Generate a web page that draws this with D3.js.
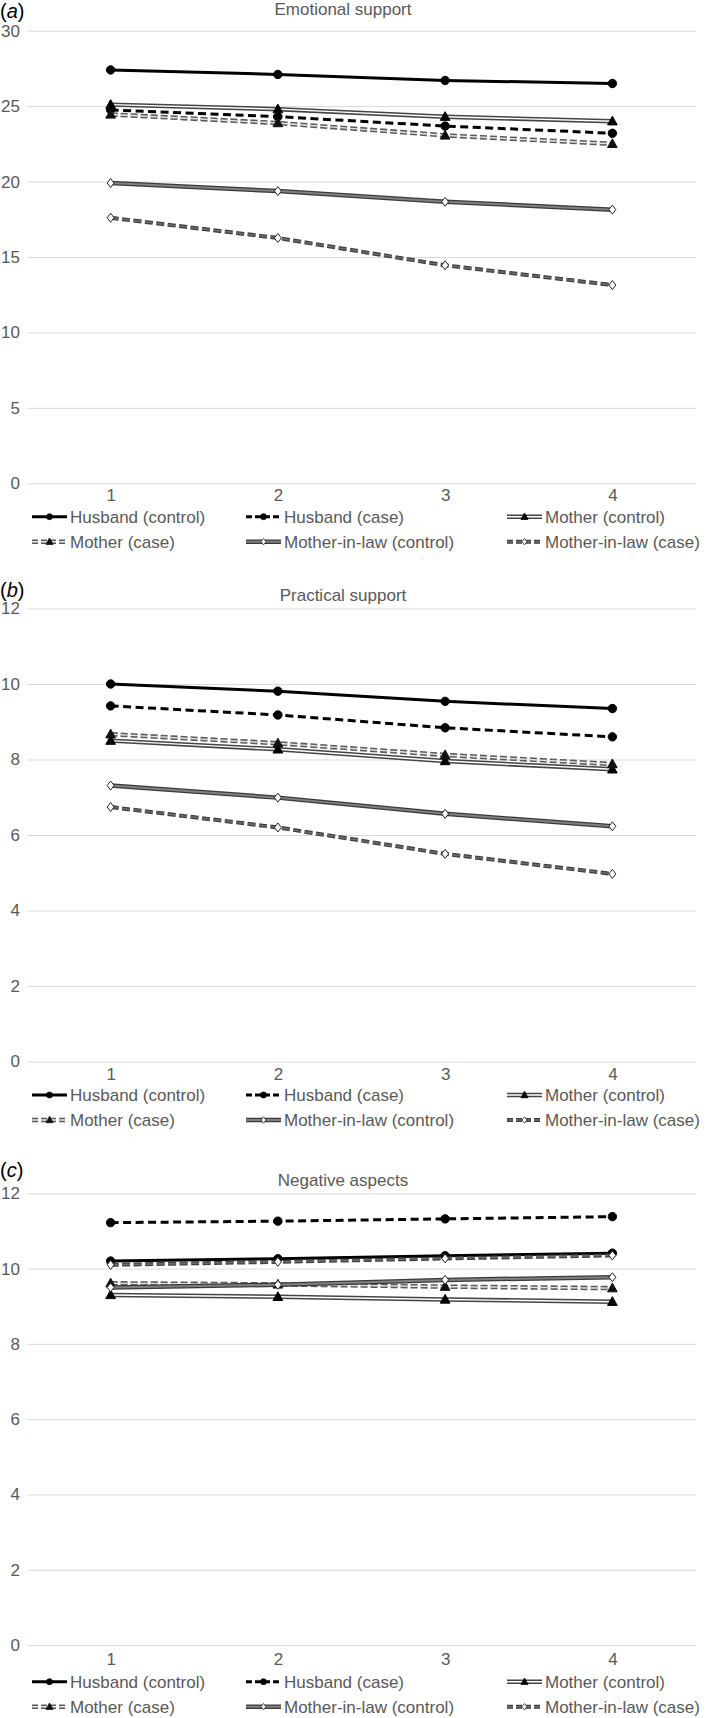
<!DOCTYPE html>
<html>
<head>
<meta charset="utf-8">
<script src="https://cdn.jsdelivr.net/npm/d3@7"></script>
<style>
  html, body { margin: 0; padding: 0; background: #fff; }
  svg { display: block; font-family: "Liberation Sans", Arial, sans-serif; }
</style>
</head>
<body>
<svg id="chart" width="706" height="1718"></svg>
<script>
// ---------------- DATA ----------------
const categories = [1, 2, 3, 4];
const seriesNames = ["Husband (control)", "Husband (case)", "Mother (control)",
                     "Mother (case)", "Mother-in-law (control)", "Mother-in-law (case)"];
const panelLetters = ["a", "b", "c"];
const panelTitles = ["Emotional support", "Practical support", "Negative aspects"];
const emotionalTicks = [0, 5, 10, 15, 20, 25, 30];
const practicalTicks = [0, 2, 4, 6, 8, 10, 12];
const negativeTicks = [0, 2, 4, 6, 8, 10, 12];

// order follows seriesNames
const emotionalSupport = [
  [27.4, 27.1, 26.7, 26.5],
  [24.75, 24.3, 23.68, 23.2],
  [25.1, 24.8, 24.3, 24.0],
  [24.45, 23.88, 23.06, 22.5],
  [19.9, 19.37, 18.66, 18.14],
  [17.6, 16.26, 14.45, 13.14]
];
const practicalSupport = [
  [10.0, 9.81, 9.54, 9.35],
  [9.42, 9.18, 8.84, 8.6],
  [8.5, 8.27, 7.96, 7.74],
  [8.67, 8.43, 8.12, 7.88],
  [7.31, 6.99, 6.56, 6.23],
  [6.74, 6.2, 5.5, 4.97]
];
const negativeAspects = [
  [10.2, 10.26, 10.34, 10.41],
  [11.22, 11.26, 11.32, 11.38],
  [9.3, 9.25, 9.18, 9.12],
  [9.61, 9.58, 9.52, 9.48],
  [9.5, 9.57, 9.7, 9.77],
  [10.1, 10.18, 10.27, 10.35]
];

// ---------------- STYLES / LAYOUT ----------------
const styles = [
  { layers: [{ c: "#000", w: 3 }], marker: "circle", fill: "#000", stroke: "#000" },
  { layers: [{ c: "#000", w: 3, d: "8,4.5" }], marker: "circle", fill: "#000", stroke: "#000" },
  { layers: [{ c: "#444", w: 4.5 }, { c: "#fff", w: 1.4 }], marker: "triangle", fill: "#000", stroke: "#000" },
  { layers: [{ c: "#5a5a5a", w: 4.5, d: "7,3" }, { c: "#e6e6e6", w: 1.4, d: "7,3" }], marker: "triangle", fill: "#111", stroke: "#111" },
  { layers: [{ c: "#3a3a3a", w: 4.5 }, { c: "#808080", w: 2 }], marker: "diamond", fill: "#fff", stroke: "#222" },
  { layers: [{ c: "#3e3e3e", w: 4, d: "8,3.5" }, { c: "#6e6e6e", w: 1.5, d: "8,3.5" }], marker: "diamond", fill: "#fff", stroke: "#222" }
];

const panels = [
  { data: emotionalSupport, ticks: emotionalTicks, max: 30, top: 30.7, bottom: 483.3,
    titleY: 9, letterY: 11, xPad: 6, legY: [33.4, 58.4] },
  { data: practicalSupport, ticks: practicalTicks, max: 12, top: 608.5, bottom: 1061.5,
    titleY: 595, letterY: 590, xPad: 6, legY: [33.5, 58.5] },
  { data: negativeAspects, ticks: negativeTicks, max: 12, top: 1193.3, bottom: 1645,
    titleY: 1180, letterY: 1170, xPad: 7.5, legY: [36.7, 61.7] }
];

const plotLeft = 27, plotRight = 696;
const textGray = "#595959";
const svg = d3.select("#chart");

const x = d3.scalePoint().domain(categories).range([plotLeft, plotRight]).padding(0.5);

function markerPath(type, s) {
  if (type === "circle") return d3.symbol().type(d3.symbolCircle).size(Math.PI * s * s)();
  if (type === "triangle") return `M0,${-s * 1.1}L${s * 1.05},${s * 0.8}L${-s * 1.05},${s * 0.8}Z`;
  return `M0,${-s * 1.15}L${s * 0.9},0L0,${s * 1.15}L${-s * 0.9},0Z`;
}
const markerSize = { circle: 4.2, triangle: 4.6, diamond: 3.9 };
const legendMarkerSize = { circle: 3, triangle: 3.4, diamond: 2.8 };

panels.forEach((p, pi) => {
  const g = svg.append("g");
  const y = d3.scaleLinear().domain([0, p.max]).range([p.bottom, p.top]);

  // gridlines + y labels
  const yAxis = d3.axisLeft(y).tickValues(p.ticks).tickSizeInner(-(plotRight - plotLeft))
    .tickSizeOuter(0).tickPadding(7).tickFormat(d3.format("d"));
  const ya = g.append("g").attr("transform", `translate(${plotLeft},0)`).call(yAxis);
  ya.select(".domain").remove();
  ya.selectAll(".tick line").attr("stroke", "#d9d9d9").attr("stroke-width", 1);
  ya.selectAll(".tick text").attr("fill", textGray).attr("font-size", 17)
    .attr("font-family", "Liberation Sans, Arial, sans-serif");

  // x labels
  const xAxis = d3.axisBottom(x).tickSize(0).tickPadding(p.xPad);
  const xa = g.append("g").attr("transform", `translate(0,${p.bottom})`).call(xAxis);
  xa.select(".domain").remove();
  xa.selectAll(".tick text").attr("fill", textGray).attr("font-size", 17)
    .attr("font-family", "Liberation Sans, Arial, sans-serif");

  // title and letter
  g.append("text").attr("x", 343).attr("y", p.titleY).attr("dy", "0.35em")
    .attr("text-anchor", "middle").attr("fill", textGray).attr("font-size", 17)
    .text(panelTitles[pi]);
  const lt = g.append("text").attr("x", 0).attr("y", p.letterY).attr("dy", "0.35em")
    .attr("fill", "#000").attr("font-size", 20);
  lt.append("tspan").text("(");
  lt.append("tspan").attr("font-style", "italic").text(panelLetters[pi]);
  lt.append("tspan").text(")");

  // lines
  const line = d3.line().x((d, i) => x(categories[i])).y(d => y(d));
  p.data.forEach((vals, si) => {
    const st = styles[si];
    const sg = g.append("g");
    st.layers.forEach(L => {
      sg.append("path").attr("d", line(vals)).attr("fill", "none")
        .attr("stroke", L.c).attr("stroke-width", L.w)
        .attr("stroke-dasharray", L.d || null).attr("stroke-linejoin", "round");
    });
    sg.selectAll("path.m").data(vals).enter().append("path").attr("class", "m")
      .attr("d", markerPath(st.marker, markerSize[st.marker]))
      .attr("transform", (d, i) => `translate(${x(categories[i])},${y(d)})`)
      .attr("fill", st.fill).attr("stroke", st.stroke).attr("stroke-width", 1);
  });

  // legend
  const colX = [32, 246, 507];
  seriesNames.forEach((name, si) => {
    const row = Math.floor(si / 3), col = si % 3;
    const ly = p.bottom + p.legY[row];
    const lx = colX[col];
    const st = styles[si];
    const lg = g.append("g");
    st.layers.forEach(L => {
      lg.append("line").attr("x1", lx).attr("x2", lx + 35).attr("y1", ly).attr("y2", ly)
        .attr("stroke", L.c).attr("stroke-width", L.w).attr("stroke-dasharray", L.d ? "6,3" : null);
    });
    lg.append("path").attr("d", markerPath(st.marker, legendMarkerSize[st.marker]))
      .attr("transform", `translate(${lx + 17.5},${ly})`)
      .attr("fill", st.fill).attr("stroke", st.stroke).attr("stroke-width", 0.8);
    lg.append("text").attr("x", lx + 38).attr("y", ly).attr("dy", "0.35em")
      .attr("fill", textGray).attr("font-size", 17).text(name);
  });
});
</script>
</body>
</html>
